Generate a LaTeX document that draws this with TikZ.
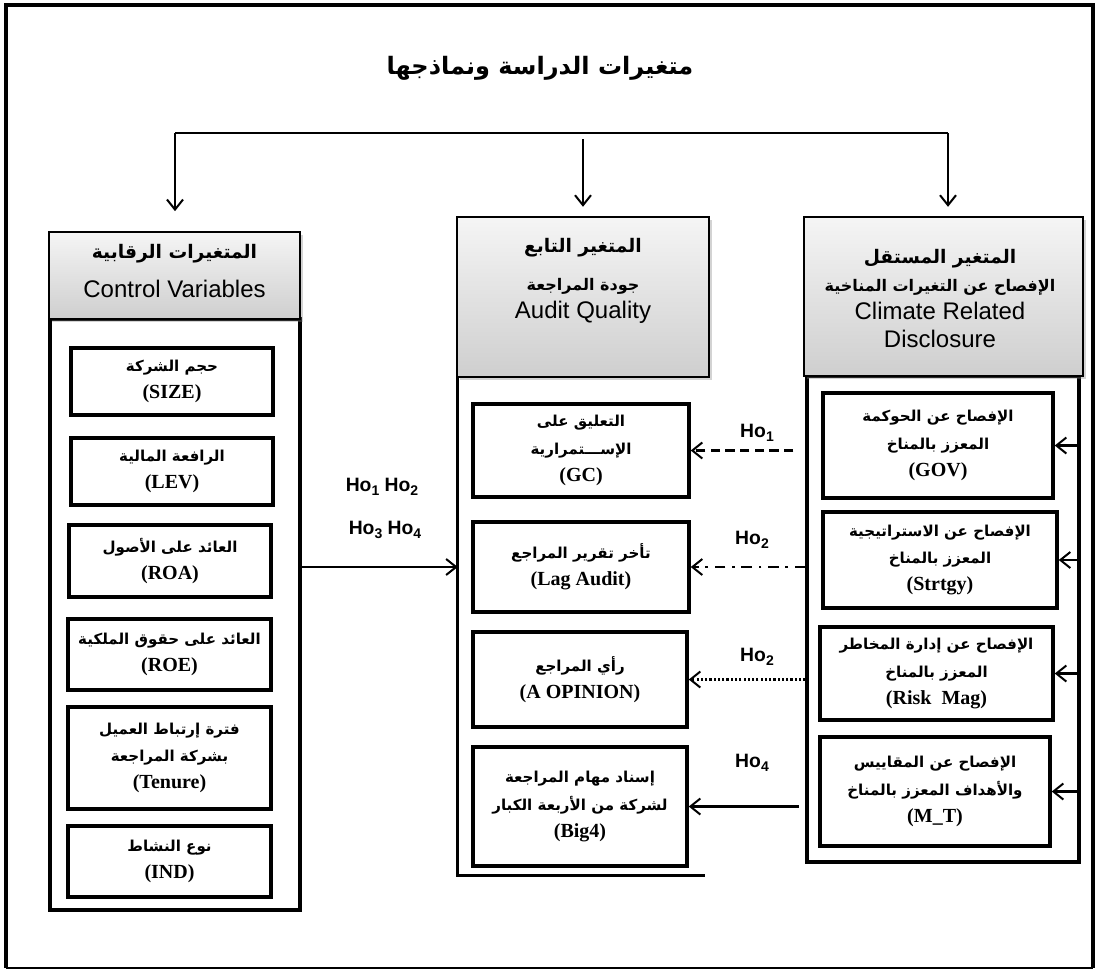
\documentclass[tikz,border=0pt]{standalone}
\usepackage{fontspec}
\setmainfont{Liberation Serif}
\newfontfamily\arabicfont[Script=Arabic]{DejaVu Sans}
\newfontfamily\arialfont{Liberation Sans}
\TeXXeTstate=1
\usetikzlibrary{arrows.meta,shadows}
\newcommand\ar[2][11.3]{{\fontsize{#1}{20}\selectfont\arabicfont\bfseries\beginR #2\endR}}
\newcommand\ho[1]{Ho\raisebox{-0.35ex}{\fontsize{10.5}{10.5}\selectfont #1}}
\newcommand\mybox[7][box]{\node[#1, minimum width={(#5-#3)*0.75pt}, minimum height={(#6-#4)*0.75pt}] (#2) at ({(#3+#5)/2},{(#4+#6)/2}) {#7};}
\begin{document}
\begin{tikzpicture}[x=0.75pt,y=-0.75pt,
  box/.style={draw, line width=2.6pt, align=center, inner sep=0pt, font=\fontsize{15}{20.5}\selectfont\bfseries},
  hdr/.style={draw, line width=1.3pt, top color=gray!8, bottom color=gray!38, drop shadow={opacity=0.35, shadow xshift=2.5pt, shadow yshift=-2.5pt}, inner sep=0pt},
  hdrtxt/.style={align=center, inner sep=0pt, font=\arialfont\fontsize{18}{21}\selectfont},
  cont/.style={draw, line width=2.4pt, inner sep=0pt},
  ghost/.style={draw=none, inner sep=0pt},
  arr/.style={-{Straight Barb[length=7.5pt,width=12pt,line width=1.5pt]}, line width=1.7pt},
  lbl/.style={inner sep=0pt, font=\arialfont\bfseries\fontsize{14.5}{16}\selectfont}
]
\useasboundingbox (0,0) rectangle (1096,971);
% outer frame
\draw[line width=2.8pt] (6,968) -- (6,5) -- (1093,5) -- (1093,968);
\draw[line width=1pt] (6,968) -- (1093,968);
% title
\node[inner sep=0pt] (title) at (540,68) {\ar[18]{متغيرات الدراسة ونماذجها}};
% containers
\mybox[cont]{leftc}{50}{319}{300}{910}{}
\mybox[ghost]{midc}{458}{377}{705}{875}{}
\draw[line width=2.4pt] (midc.north west) -- (midc.south west) -- (midc.south east);
\mybox[cont]{rightc}{807}{376}{1079}{862}{}
% headers
\mybox[hdr]{hL}{49}{232}{300}{319}{}
\node[hdrtxt] (hLt) at (174.5,271) {\ar[14]{المتغيرات الرقابية}\\[8pt]Control Variables};
\mybox[hdr]{hM}{457}{217}{709}{377}{}
\node[hdrtxt] (hMt) at (583,281) {\ar[14]{المتغير التابع}\\[8pt]\ar[12]{جودة المراجعة}\\Audit Quality};
\mybox[hdr]{hR}{804}{217}{1083}{376}{}
\node[hdrtxt] (hRt) at (940,299) {\ar[14]{المتغير المستقل}\\\ar[12]{الإفصاح عن التغيرات المناخية}\\Climate Related\\Disclosure};
% top connectors
\coordinate (tl) at (175,133);
\coordinate (tr) at (948,133);
\coordinate (tm) at (583,139);
\draw[line width=1.9pt] (tl) -- (tr);
\draw[arr, shorten >=15pt] (tl) -- (tl |- hL.north);
\draw[arr, shorten >=7pt] (tm) -- (tm |- hM.north);
\draw[arr, shorten >=7pt] (tr) -- (tr |- hR.north);
% control variables
\mybox{size}{71}{348}{273}{415}{\ar{حجم الشركة}\\(SIZE)}
\mybox{lev}{71}{438}{273}{505}{\ar{الرافعة المالية}\\(LEV)}
\mybox{roa}{69}{525}{271}{597}{\ar{العائد على الأصول}\\(ROA)}
\mybox{roe}{68}{619}{271}{690}{\ar{العائد على حقوق الملكية}\\(ROE)}
\mybox{ten}{68}{707}{271}{809}{\ar{فترة إرتباط العميل}\\\ar{بشركة المراجعة}\\(Tenure)}
\mybox{ind}{68}{826}{271}{897}{\ar{نوع النشاط}\\(IND)}
% dependent
\mybox{gc}{473}{404}{689}{497}{\ar{التعليق على}\\\ar{الإســـتمرارية}\\(GC)}
\mybox{lag}{473}{522}{689}{612}{\ar{تأخر تقرير المراجع}\\(Lag Audit)}
\mybox{opn}{473}{632}{687}{727}{\ar{رأي المراجع}\\(A OPINION)}
\mybox{big}{473}{747}{687}{866}{\ar{إسناد مهام المراجعة}\\\ar{لشركة من الأربعة الكبار}\\(Big4)}
% independent
\mybox{gov}{823}{393}{1053}{498}{\ar{الإفصاح عن الحوكمة}\\\ar{المعزز بالمناخ}\\(GOV)}
\mybox{str}{823}{512}{1057}{608}{\ar{الإفصاح عن الاستراتيجية}\\\ar{المعزز بالمناخ}\\(Strtgy)}
\mybox{risk}{820}{627}{1053}{720}{\ar{الإفصاح عن إدارة المخاطر}\\\ar{المعزز بالمناخ}\\(Risk~ Mag)}
\mybox{mt}{820}{737}{1050}{846}{\ar{الإفصاح عن المقاييس}\\\ar{والأهداف المعزز بالمناخ}\\(M\_T)}
% arrows into independent boxes
\foreach \b in {gov,str,risk,mt}
  \draw[arr] (rightc.east |- \b.east) -- (\b.east);
% left to middle
\draw[arr] (leftc.east |- lag.west) -- (midc.west |- lag.west);
\node[lbl] (h12) at (382,487) {\ho{1} \ho{2}};
\node[lbl] (h34) at (385,530) {\ho{3} \ho{4}};
% hypotheses
\draw[arr, dash pattern=on 7pt off 4pt, shorten <=9pt] (rightc.west |- gc.east) -- (gc.east);
\draw[arr, dash pattern=on 8pt off 5pt on 2pt off 5pt] (rightc.west |- lag.east) -- (lag.east);
\draw[arr, dash pattern=on 1.6pt off 1.6pt] (rightc.west |- opn.east) -- (opn.east);
\draw[arr, shorten <=5pt] (rightc.west |- big.east) -- (big.east);
\node[lbl] (l1) at (757,433) {\ho{1}};
\node[lbl] (l2) at (752,540) {\ho{2}};
\node[lbl] (l3) at (757,657) {\ho{2}};
\node[lbl] (l4) at (752,763) {\ho{4}};
\end{tikzpicture}
\end{document}
